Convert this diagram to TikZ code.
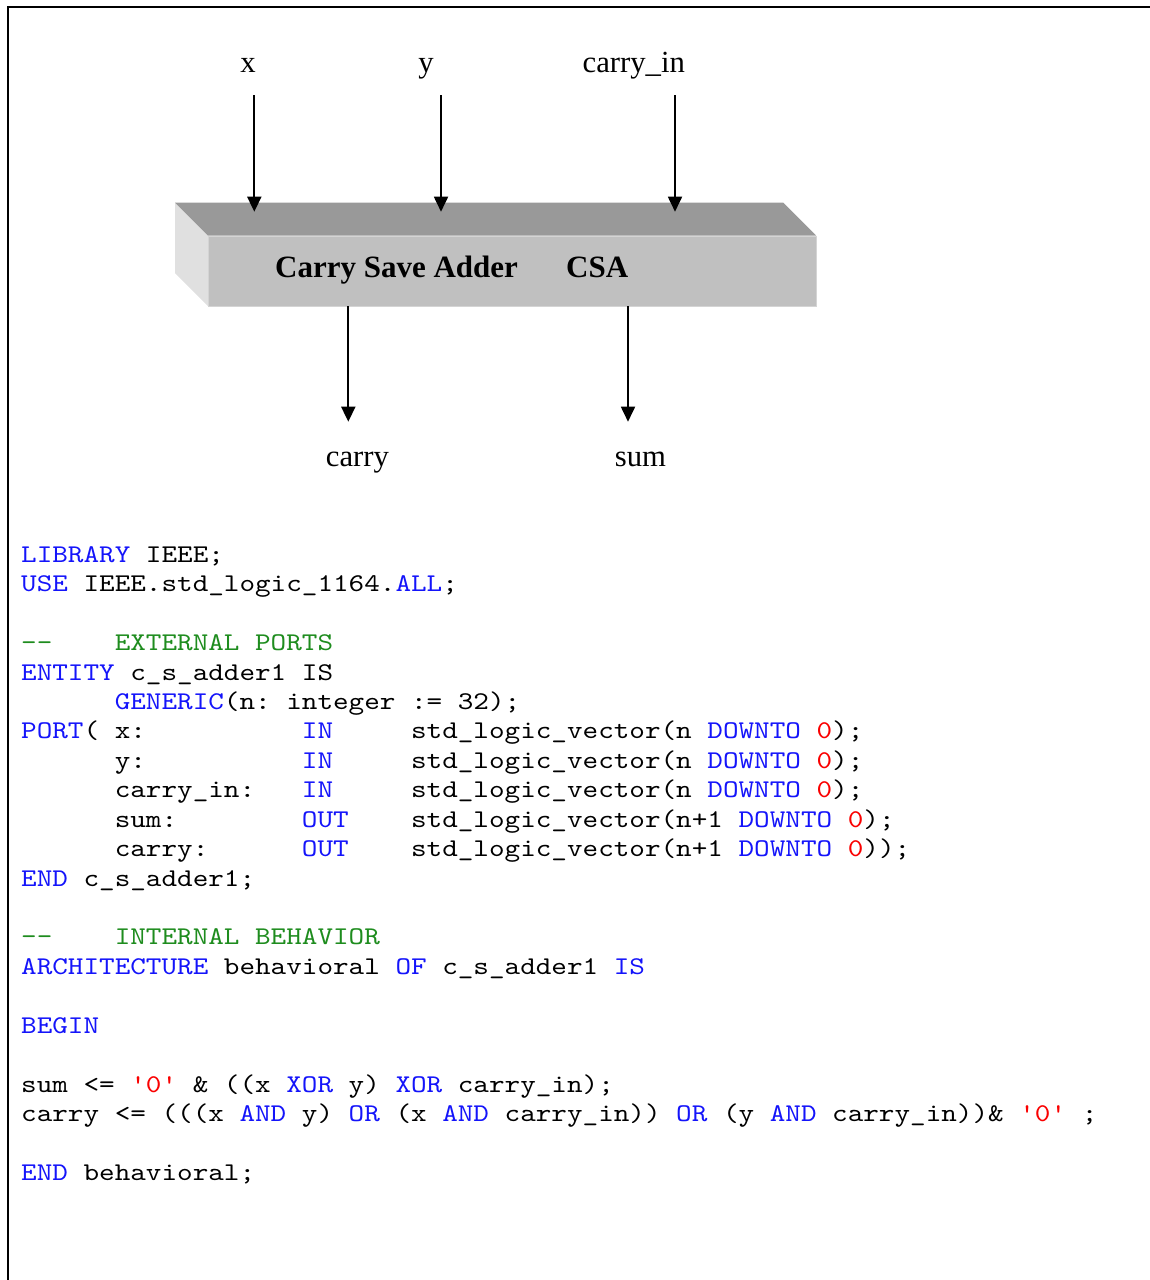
\documentclass[tikz,border=0pt]{standalone}
\usepackage{fontspec}
\setmainfont{Liberation Serif}
\setmonofont{lmmono10-regular.otf}[FakeStretch=1.165]
\usetikzlibrary{arrows.meta}

\definecolor{kwblue}{RGB}{20,20,250}
\definecolor{cmgreen}{RGB}{30,140,30}
\definecolor{litred}{RGB}{250,0,0}
\definecolor{topgray}{RGB}{153,153,153}
\definecolor{frontgray}{RGB}{192,192,192}
\definecolor{sidegray}{RGB}{224,224,224}
\definecolor{edgegray}{RGB}{212,212,212}

% VHDL highlighting
\newcommand{\kw}[1]{\textcolor{kwblue}{#1}}
\newcommand{\cm}[1]{\textcolor{cmgreen}{#1}}
\newcommand{\lit}[1]{\textcolor{litred}{#1}}

\tikzset{
  portlabel/.style={inner sep=0pt, anchor=base, font=\fontsize{30.7}{36}\selectfont},
  titletext/.style={inner sep=0pt, anchor=base west, font=\fontsize{31}{36}\selectfont\bfseries},
  codeline/.style={inner sep=0pt, anchor=base west, font=\ttfamily\fontsize{25.5}{29.43}\selectfont},
  sig/.style={line width=1.8pt, -{Triangle[width=14pt,length=15pt]}},
  frontface/.style={fill=frontgray, draw=edgegray, line width=1.2pt, inner sep=0pt,
    minimum width=608pt, minimum height=70.5pt, anchor=north west},
}

\begin{document}
\begin{tikzpicture}[x=1pt,y=-1pt]
\useasboundingbox (0,0) rectangle (1150,1280);

% page frame
\draw[line width=2pt] (1150,6.7) -- (7.7,6.7) -- (7.7,1280);

% adder block drawn as a bevelled bar
\fill[sidegray] (175,202.5) -- (208,235.5) -- (208,306) -- (175,273) -- cycle;
\fill[topgray] (175,202.5) -- (783,202.5) -- (816,235.5) -- (208,235.5) -- cycle;
\node[frontface] (front) at (208,235.5) {};
\node[titletext] (title) at (275,277) {Carry Save Adder};
\node[titletext] (abbr) at (566,277) {CSA};

% port names
\node[portlabel] (xl) at (248,72) {x};
\node[portlabel] (yl) at (426,72) {y};
\node[portlabel] (cil) at (633.8,72) {carry\_in};
\node[portlabel] (col) at (357.5,466) {carry};
\node[portlabel] (sl) at (640.5,466) {sum};

% input and output signals
\coordinate (xs) at (254.3,95);   \coordinate (xt) at (254.3,211.7);
\coordinate (ys) at (441,95);     \coordinate (yt) at (441,211.7);
\coordinate (cis) at (675,95);    \coordinate (cit) at (675,211.7);
\coordinate (cos) at (348.3,306); \coordinate (cot) at (348.3,421.7);
\coordinate (ss) at (628,306);    \coordinate (st) at (628,421.7);
\draw[sig] (xs) -- (xt);
\draw[sig] (ys) -- (yt);
\draw[sig] (cis) -- (cit);
\draw[sig] (cos) -- (cot);
\draw[sig] (ss) -- (st);

% VHDL listing
\node[codeline] (l0) at (21,562.3) {\kw{LIBRARY} IEEE;};
\node[codeline] (l1) at (21,591.7) {\kw{USE} IEEE.std\_logic\_1164.\kw{ALL};};
\node[codeline] (l3) at (21,650.6) {\cm{--~~~~EXTERNAL~PORTS}};
\node[codeline] (l4) at (21,680.0) {\kw{ENTITY} c\_s\_adder1 IS};
\node[codeline] (l5) at (21,709.5) {~~~~~~\kw{GENERIC}(n: integer := 32);};
\node[codeline] (l6) at (21,738.9) {\kw{PORT}( x:~~~~~~~~~~\kw{IN}~~~~~std\_logic\_vector(n \kw{DOWNTO} \lit{0});};
\node[codeline] (l7) at (21,768.3) {~~~~~~y:~~~~~~~~~~\kw{IN}~~~~~std\_logic\_vector(n \kw{DOWNTO} \lit{0});};
\node[codeline] (l8) at (21,797.7) {~~~~~~carry\_in:~~~\kw{IN}~~~~~std\_logic\_vector(n \kw{DOWNTO} \lit{0});};
\node[codeline] (l9) at (21,827.2) {~~~~~~sum:~~~~~~~~\kw{OUT}~~~~std\_logic\_vector(n+1 \kw{DOWNTO} \lit{0});};
\node[codeline] (l10) at (21,856.6) {~~~~~~carry:~~~~~~\kw{OUT}~~~~std\_logic\_vector(n+1 \kw{DOWNTO} \lit{0}));};
\node[codeline] (l11) at (21,886.0) {\kw{END} c\_s\_adder1;};
\node[codeline] (l13) at (21,944.9) {\cm{--~~~~INTERNAL~BEHAVIOR}};
\node[codeline] (l14) at (21,974.3) {\kw{ARCHITECTURE} behavioral \kw{OF} c\_s\_adder1 \kw{IS}};
\node[codeline] (l16) at (21,1033.2) {\kw{BEGIN}};
\node[codeline] (l18) at (21,1092.0) {sum <= \lit{'0'} \& ((x \kw{XOR} y) \kw{XOR} carry\_in);};
\node[codeline] (l19) at (21,1121.5) {carry <= (((x \kw{AND} y) \kw{OR} (x \kw{AND} carry\_in)) \kw{OR} (y \kw{AND} carry\_in))\& \lit{'0'} ;};
\node[codeline] (l21) at (21,1180.3) {\kw{END} behavioral;};
\end{tikzpicture}
\end{document}
